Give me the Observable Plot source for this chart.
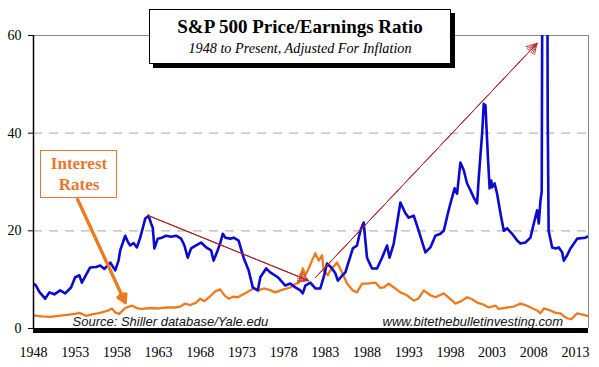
<!DOCTYPE html>
<html><head><meta charset="utf-8">
<script src="https://cdn.jsdelivr.net/npm/d3@7"></script>
<script src="https://cdn.jsdelivr.net/npm/@observablehq/plot@0.6"></script>
<style>
body{margin:0;background:#fff;}
#wrap{position:relative;width:599px;height:367px;overflow:hidden;}
.box{position:absolute;background:#fff;}
#tbox{left:149px;top:9px;width:300px;height:53px;border:1px solid #000;box-shadow:4px 4px 0 #000;}
.tt{position:absolute;left:149px;width:302px;text-align:center;font-family:"Liberation Serif",serif;color:#000;white-space:nowrap;}
#t1{top:17px;font-size:19px;font-weight:bold;line-height:19px;}
#t2{top:41px;font-size:14.2px;font-style:italic;line-height:14px;}
#ibox{left:40px;top:150px;width:75px;height:46px;border:1.5px solid #e8772e;}
.it{position:absolute;left:40px;width:78px;text-align:center;font-family:"Liberation Serif",serif;font-weight:bold;font-size:17px;line-height:17px;color:#e8772e;}
#i1{top:155px;}
#i2{top:176px;}
</style></head>
<body>
<div id="wrap"></div>
<script>
// P/E ratio (Shiller data, trailing earnings)
const peYears = [1948.0,1948.3,1948.7,1949.4,1949.9,1950.5,1951.2,1951.8,1952.5,1953.0,1953.5,1953.8,1954.3,1954.8,1955.5,1956.0,1956.5,1957.2,1957.8,1958.2,1958.4,1959.0,1959.3,1959.6,1960.0,1960.4,1960.8,1961.4,1961.8,1962.1,1962.3,1962.5,1962.9,1963.4,1963.9,1964.5,1965.1,1965.7,1966.1,1966.5,1966.9,1967.5,1968.1,1968.7,1969.3,1969.6,1970.0,1970.4,1970.7,1971.0,1971.6,1972.0,1972.6,1973.2,1973.8,1974.3,1974.9,1975.2,1975.9,1976.4,1977.3,1978.2,1978.8,1979.4,1980.0,1980.3,1980.6,1981.2,1981.8,1982.4,1982.8,1983.2,1983.7,1984.2,1984.5,1985.0,1985.4,1986.3,1986.8,1987.2,1987.6,1987.8,1988.0,1988.6,1989.2,1989.8,1990.4,1990.7,1991.2,1991.6,1992.0,1992.6,1993.0,1993.6,1994.2,1995.0,1995.6,1996.2,1996.8,1997.2,1997.7,1998.0,1998.5,1998.8,1999.2,1999.6,2000.0,2000.4,2000.8,2001.2,2001.4,2001.8,2002.0,2002.2,2002.5,2002.7,2002.9,2003.0,2003.3,2003.6,2004.0,2004.4,2004.8,2005.4,2006.0,2006.4,2007.0,2007.6,2008.0,2008.4,2008.6,2008.8,2008.95,2009.0,2009.05,2009.3,2009.4,2009.6,2009.67,2009.78,2010.2,2010.6,2011.0,2011.4,2011.6,2012.0,2012.4,2013.2,2014.2,2014.4];
const peValues = [9.2,8.8,7.5,6.1,7.4,7.0,7.8,7.2,8.4,10.5,10.9,9.4,11.0,12.5,12.6,12.9,12.2,13.5,11.9,13.9,16.0,19.0,17.8,17.0,17.5,16.6,18.6,22.5,23.1,21.5,20.7,16.4,18.4,18.6,19.0,18.8,19.0,18.4,17.0,14.5,16.4,17.0,17.6,16.6,16.0,13.9,15.6,17.5,19.4,18.6,18.4,18.6,18.0,14.5,11.9,8.4,7.8,10.5,12.3,11.5,10.5,8.8,9.2,8.4,7.8,7.2,8.8,9.4,8.2,8.2,10.5,13.3,12.5,11.3,9.8,10.8,11.5,16.4,17.0,20.0,21.7,18.0,14.5,12.3,12.3,14.5,17.0,14.5,17.4,21.5,25.8,23.6,22.7,23.1,20.0,15.6,16.6,19.0,19.4,20.0,23.6,25.6,28.7,27.6,34.0,32.4,29.7,28.3,26.8,25.6,30.9,39.9,46.0,45.7,35.0,28.7,30.3,28.9,29.7,27.6,23.6,20.0,20.5,19.4,18.0,17.4,17.6,18.6,21.5,24.2,21.5,26.2,28.0,58.0,80.0,110.0,123.0,90.0,43.0,20.0,16.6,16.4,16.6,15.6,13.9,15.0,16.4,18.4,18.6,18.8];
// Long-term interest rates
const rateYears = [1948.0,1949.0,1950.0,1951.0,1952.0,1953.0,1953.5,1954.3,1955.0,1956.0,1957.0,1957.4,1957.8,1958.3,1959.0,1959.8,1960.5,1961.0,1962.0,1963.0,1964.0,1965.0,1965.6,1966.2,1966.8,1967.5,1968.0,1968.5,1969.0,1969.8,1970.4,1970.9,1971.4,1971.9,1972.5,1973.4,1974.4,1975.0,1975.6,1976.3,1977.0,1977.8,1978.8,1979.3,1979.8,1980.0,1980.3,1980.6,1981.0,1981.4,1981.8,1982.2,1982.6,1982.8,1983.3,1983.6,1984.4,1985.0,1985.6,1986.3,1986.8,1987.4,1988.0,1989.0,1989.6,1990.0,1990.6,1991.3,1992.0,1992.8,1993.6,1994.2,1994.8,1995.6,1996.2,1997.2,1998.0,1998.6,1999.3,2000.0,2000.6,2001.2,2001.8,2002.6,2003.4,2003.8,2004.8,2005.6,2006.4,2007.0,2007.6,2008.4,2008.8,2009.2,2010.0,2010.6,2011.2,2011.7,2012.0,2012.5,2013.2,2013.8,2014.4];
const rateValues = [2.7,2.5,2.4,2.6,2.8,3.0,3.2,2.6,2.9,3.2,3.7,4.1,3.3,3.0,4.2,4.7,4.1,4.0,4.2,4.1,4.3,4.3,4.5,5.1,4.8,5.3,6.1,5.6,6.3,7.6,8.0,6.8,6.1,6.5,6.4,7.2,8.2,7.8,8.2,7.9,7.4,7.9,8.4,9.0,9.4,10.2,12.3,10.9,12.3,13.9,15.4,13.9,15.0,11.9,10.9,11.9,13.5,11.5,9.2,7.8,7.4,9.2,9.2,9.4,8.3,8.4,9.2,8.3,7.4,6.8,5.7,6.2,7.8,6.8,6.4,7.2,6.0,5.1,5.6,6.4,6.0,5.3,5.0,4.3,4.7,4.0,4.3,4.5,5.1,4.8,4.3,3.7,3.1,4.1,3.7,3.2,3.1,2.4,2.1,1.9,3.1,2.9,2.6];
const xTicks = [1948,1953,1958,1963,1968,1973,1978,1983,1988,1993,1998,2003,2008,2013];
const yTicks = [0,20,40,60];
const gridLevels = [20,40];
// trend arrows (start year, start value, end year, end value)
const trendX1 = [1961.8, 1981.8];
const trendY1 = [23.1, 10.4];
const trendX2 = [1981.0, 2008.4];
const trendY2 = [9.8, 58.4];
// "Interest Rates" pointer
const rateArrowX1 = [1953.3];
const rateArrowY1 = [26.4];
const rateArrowX2 = [1959.0];
const rateArrowY2 = [5.3];
const xMin = 1948, xMax = 2014.56;

const pe = peYears.map((x, i) => ({x, y: peValues[i]}));
const rates = rateYears.map((x, i) => ({x, y: rateValues[i]}));
const trends = trendX1.map((x1, i) => ({x1, y1: trendY1[i], x2: trendX2[i], y2: trendY2[i]}));
const rateArrow = rateArrowX1.map((x1, i) => ({x1, y1: rateArrowY1[i], x2: rateArrowX2[i], y2: rateArrowY2[i]}));

const trendArrow = (angle, dash) => Plot.arrow(trends, {x1: "x1", y1: "y1", x2: "x2", y2: "y2", stroke: "#b02828", strokeWidth: 1, strokeDasharray: dash, headLength: 17, headAngle: angle});
const pointer = (angle) => Plot.arrow(rateArrow, {x1: "x1", y1: "y1", x2: "x2", y2: "y2", stroke: "#ef7a1e", strokeWidth: 3, headLength: 4.5, headAngle: angle});

const chart = Plot.plot({
  width: 599, height: 367,
  marginLeft: 33, marginRight: 11, marginTop: 35, marginBottom: 39,
  style: {background: "white", fontFamily: "Liberation Serif, serif", overflow: "visible"},
  x: {domain: [xMin, xMax]},
  y: {domain: [0, 60]},
  marks: [
    Plot.ruleY(gridLevels, {stroke: "#b8b8b8", strokeWidth: 1.3, strokeDasharray: "9,7"}),
    Plot.ruleY([60], {stroke: "#888", strokeWidth: 1}),
    Plot.ruleX([xMax], {stroke: "#888", strokeWidth: 1}),
    Plot.line(rates, {x: "x", y: "y", stroke: "#ef7a1e", strokeWidth: 2.3, clip: true}),
    Plot.line(pe, {x: "x", y: "y", stroke: "#0a0ad0", strokeWidth: 2.6, clip: true}),
    trendArrow(60, "1.5,1"),
    trendArrow(40, "1,1"),
    trendArrow(20, "1,1"),
    pointer(60),
    pointer(30),
    Plot.axisY({ticks: yTicks, tickSize: 5, tickPadding: 7, fontSize: 14, stroke: "#000", color: "#000"}),
    Plot.ruleX([xMin], {stroke: "#000", strokeWidth: 1.5, y1: 0, y2: 60}),
    Plot.ruleY([0], {stroke: "#000", strokeWidth: 5, dy: 2}),
    Plot.axisX({ticks: xTicks, tickSize: 0, tickPadding: 19, fontSize: 14, tickFormat: d => String(d), color: "#000"}),
    Plot.text(["Source: Shiller database/Yale.edu"], {frameAnchor: "bottom-left", dx: 39, dy: -3, fontFamily: "Liberation Sans, sans-serif", fontStyle: "italic", fontSize: 13, fill: "#111", textAnchor: "start"}),
    Plot.text(["www.bitethebulletinvesting.com"], {frameAnchor: "bottom-left", dx: 349, dy: -3, fontFamily: "Liberation Sans, sans-serif", fontStyle: "italic", fontSize: 13, fill: "#111", textAnchor: "start"})
  ]
});
const wrap = document.getElementById("wrap");
wrap.appendChild(chart);
wrap.insertAdjacentHTML("beforeend",
  '<div id="tbox" class="box"></div>' +
  '<div id="t1" class="tt">S&amp;P 500 Price/Earnings Ratio</div>' +
  '<div id="t2" class="tt">1948 to Present, Adjusted For Inflation</div>' +
  '<div id="ibox" class="box"></div>' +
  '<div id="i1" class="it">Interest</div>' +
  '<div id="i2" class="it">Rates</div>');
</script>
</body></html>
